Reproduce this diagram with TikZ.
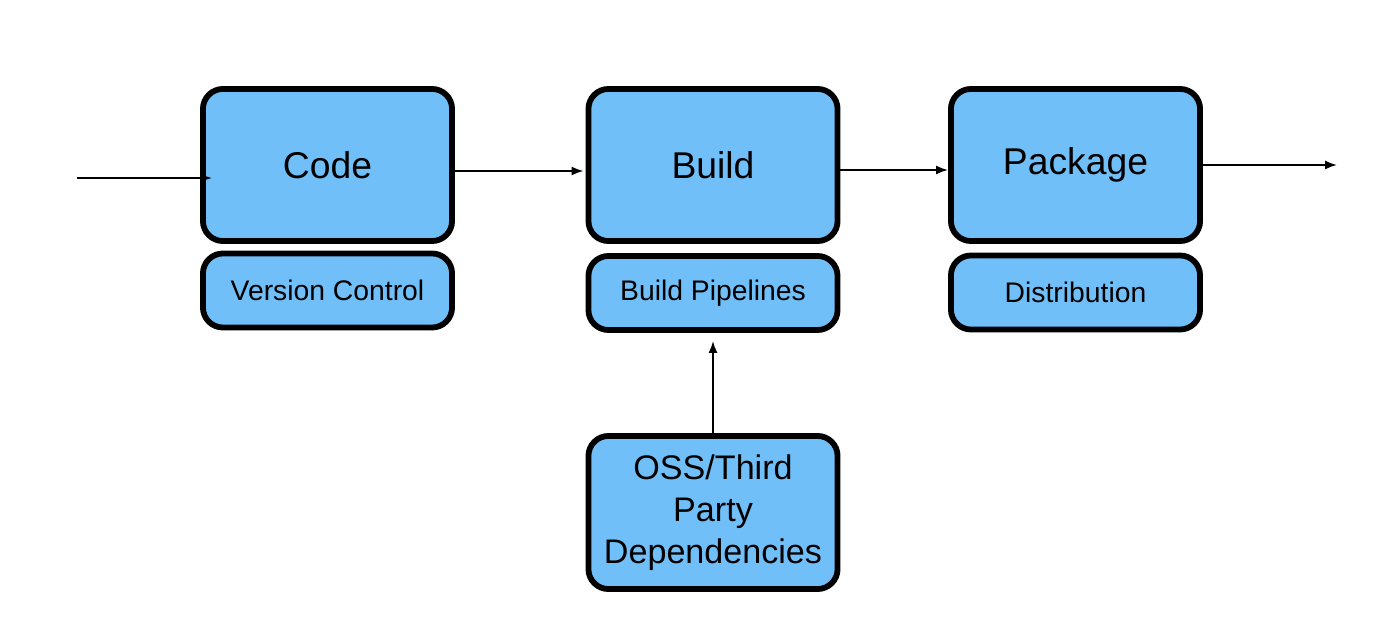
\documentclass[tikz,border=0pt]{standalone}
\usepackage{fontspec}
\setmainfont{Liberation Sans}
\usetikzlibrary{arrows.meta}
\definecolor{boxblue}{RGB}{112,191,248}
\tikzset{
  bigbox/.style={draw=black, line width=1.65pt, fill=boxblue, rounded corners=0.2cm,
    minimum width=2.49cm, minimum height=1.52cm, inner sep=0pt,
    font=\fontsize{10.6}{13}\selectfont},
  smallbox/.style={draw=black, line width=1.65pt, fill=boxblue, rounded corners=0.2cm,
    minimum width=2.49cm, minimum height=0.74cm, inner sep=0pt,
    font=\fontsize{8.05}{9}\selectfont},
  ossbox/.style={bigbox, minimum height=1.53cm, align=center,
    font=\fontsize{9.7}{12}\selectfont},
  arr/.style={line width=0.5pt, -{Latex[length=0.12cm,width=0.09cm]}}
}
\begin{document}
\begin{tikzpicture}[x=0.01cm,y=-0.01cm]
\useasboundingbox (0,0) rectangle (1400,643);
\node[bigbox] (code) at (327.5,165) {Code};
\node[smallbox] (vc) at (327.5,290.5) {Version Control};
\node[bigbox] (build) at (713,165) {Build};
\node[smallbox] (pipes) at (713,293) {Build Pipelines};
\node[bigbox] (package) at (1075.5,165) {Package};
\node[smallbox] (dist) at (1075.5,292.5) {Distribution};
\node[ossbox] (oss) at (713,512.5) {OSS/Third\\Party\\Dependencies};
\coordinate (in) at (77,178);
\coordinate (out) at (1337,165);
\draw[arr] (in) -- ([xshift=0.12cm]code.west |- in);
\draw[arr] ([yshift=-0.06cm]code.east) -- ([yshift=-0.06cm,xshift=-0.02cm]build.west);
\draw[arr] ([yshift=-0.05cm]build.east) -- ([yshift=-0.05cm]package.west);
\draw[arr] (package.east) -- (out);
\draw[arr] (oss.north) -- ([yshift=-0.08cm]pipes.south);
\end{tikzpicture}
\end{document}
